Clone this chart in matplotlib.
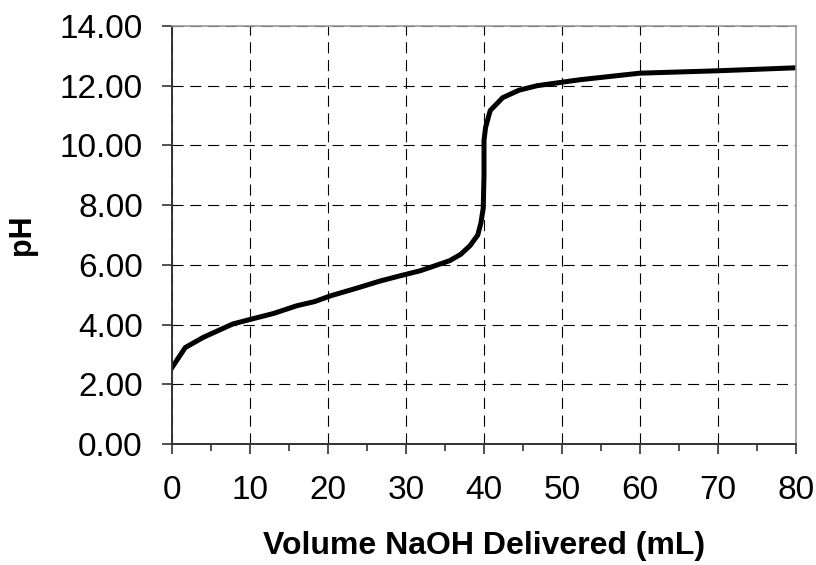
import matplotlib
matplotlib.use("Agg")
import matplotlib.pyplot as plt
from matplotlib.ticker import MultipleLocator

plt.rcParams["font.family"] = ["Liberation Sans", "DejaVu Sans"]

# Curva de valoración: volumen de NaOH (mL) y pH
volumen = [0, 1.7, 4, 7.8, 10, 13, 16, 18.3, 20.3, 23.7, 26.7, 29.2, 31.8,
           33.5, 35.6, 37, 38.2, 39.2, 39.6, 39.9, 40.0, 40.0, 40.2, 40.8,
           42.4, 44.5, 46.8, 52.3, 60, 70, 80]
ph = [2.56, 3.23, 3.57, 4.02, 4.17, 4.37, 4.63, 4.77, 4.96, 5.22, 5.46, 5.63,
      5.8, 5.95, 6.14, 6.35, 6.64, 7.0, 7.4, 7.9, 9.0, 10.17, 10.6, 11.17,
      11.6, 11.85, 12.0, 12.2, 12.42, 12.5, 12.6]

fig = plt.figure(figsize=(8.16, 5.65), dpi=100)
ax = fig.add_axes([0.2108, 0.2142, 0.7647, 0.7398])

ax.plot(volumen, ph, color="black", linewidth=3.6, solid_joinstyle="round")

ax.set_xlim(0, 80)
ax.set_ylim(0, 14)
ax.xaxis.set_major_locator(MultipleLocator(10))
ax.xaxis.set_minor_locator(MultipleLocator(5))
ax.yaxis.set_major_locator(MultipleLocator(2))
ax.set_yticklabels([f"{v:.2f}" for v in ax.get_yticks()])

ax.grid(True, which="major", color="black", linestyle=(0, (10, 6)), linewidth=0.8)

ax.tick_params(axis="both", which="major", labelsize=24, length=7, width=1.2, color="#333333")
ax.tick_params(axis="y", pad=14)
ax.tick_params(axis="x", pad=15)
ax.tick_params(axis="x", which="minor", length=5, width=1.2, color="#333333")

for lado in ["left", "bottom"]:
    ax.spines[lado].set_color("#333333")
    ax.spines[lado].set_linewidth(1.4)
for lado in ["top", "right"]:
    ax.spines[lado].set_color("#999999")
    ax.spines[lado].set_linewidth(1.2)

ax.set_xlabel("Volume NaOH Delivered (mL)", fontsize=23, fontweight="bold", labelpad=18)
ax.set_ylabel("pH", fontsize=22, fontweight="bold", labelpad=16)

fig.savefig("out.png", dpi=100)
